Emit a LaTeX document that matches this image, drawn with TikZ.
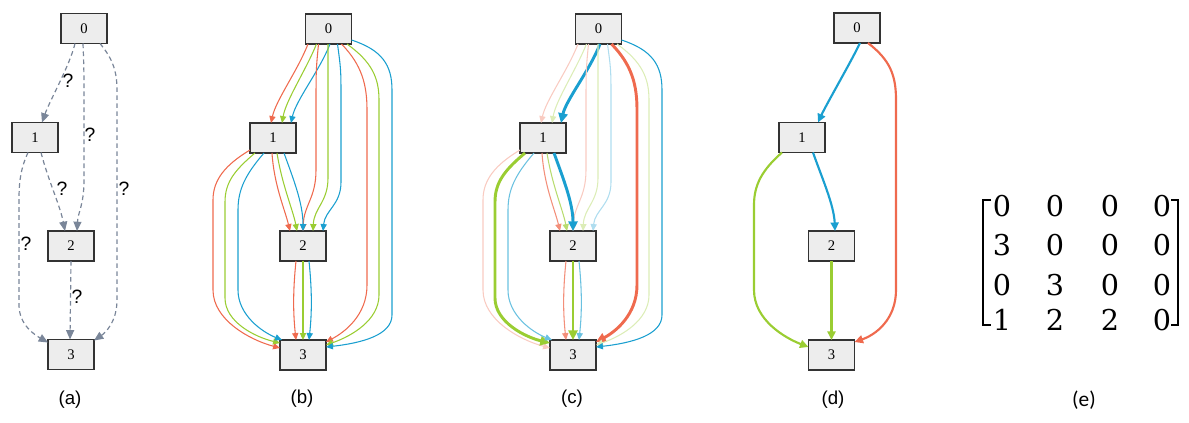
\documentclass[tikz,border=0pt]{standalone}
\usepackage{fontspec}
\usetikzlibrary{arrows.meta,calc}
\newfontfamily\timesf{Liberation Serif}
\newfontfamily\arialf{Liberation Sans}
\newfontfamily\calf{Carlito}
\newfontfamily\matf{DejaVu Serif}
\definecolor{myred}{HTML}{EF6A4E}
\definecolor{mygreen}{HTML}{9ACD32}
\definecolor{myblue}{HTML}{1A9FD0}
\definecolor{slate}{HTML}{7A8699}
\tikzset{
 box/.style={draw=black!80, fill=black!7, line width=1.1pt, minimum width=34.5pt, minimum height=22.5pt, inner sep=0pt, font=\timesf\fontsize{11}{13}\selectfont},
 lab/.style={font=\arialf\fontsize{14}{16}\selectfont, inner sep=0pt},
 qm/.style={font=\arialf\fontsize{14.5}{16}\selectfont, inner sep=0pt},
 mat/.style={font=\matf\fontsize{21.5}{24}\selectfont, inner sep=0pt},
 dedge/.style={color=slate, line width=0.9pt, dash pattern=on 3.5pt off 2.5pt, -{Triangle[length=7pt,width=6pt]}},
 e/.style={line width=0.8pt, -{Triangle[length=4pt 1.5,width=3.4pt 1.6]}},
 R/.style={e,color=myred}, G/.style={e,color=mygreen}, B/.style={e,color=myblue},
 Rf/.style={e,color=myred!35}, Gf/.style={e,color=mygreen!35}, Bf/.style={e,color=myblue!35},
 Rm/.style={e,color=myred!75}, Gm/.style={e,color=mygreen!70}, Bm/.style={e,color=myblue!65},
 RT/.style={e,color=myred,line width=2.2pt}, GT/.style={e,color=mygreen,line width=2.2pt}, BT/.style={e,color=myblue,line width=2.2pt},
 dR/.style={e,color=myred,line width=1.6pt}, dG/.style={e,color=mygreen,line width=1.6pt}, dB/.style={e,color=myblue,line width=1.6pt},
 be01r/.style=R, be01g/.style=G, be01b/.style=B,
 be02r/.style=R, be02g/.style=G, be02b/.style=B,
 be03r/.style=R, be03g/.style=G, be03b/.style=B,
 be12r/.style=R, be12g/.style=G, be12b/.style=B,
 be13r/.style=R, be13g/.style=G, be13b/.style=B,
 be23r/.style=R, be23g/.style=G, be23b/.style=B,
 ce01r/.style=Rf, ce01g/.style=Gf, ce01b/.style=BT,
 ce02r/.style=Rf, ce02g/.style=Gf, ce02b/.style=Bf,
 ce03r/.style=RT, ce03g/.style=Gf, ce03b/.style=B,
 ce12r/.style=Rm, ce12g/.style=Gm, ce12b/.style=BT,
 ce13r/.style=Rf, ce13g/.style=GT, ce13b/.style=Bm,
 ce23r/.style=Rm, ce23g/.style=GT, ce23b/.style=Bm,
}
\newcommand\drawBC[2]{%
 \draw[#1e01r] ($(#10)+(-20.5,15)$) .. controls ({298+#2},70) and ({276+#2},100) .. ($(#11)+(-2,-15)$);
 \draw[#1e01g] ($(#10)+(-12,15)$) .. controls ({306+#2},70) and ({286+#2},100) .. ($(#11)+(9,-15)$);
 \draw[#1e01b] ($(#10)+(1.5,15)$) .. controls ({320+#2},70) and ({296+#2},100) .. ($(#11)+(18,-15)$);
 \draw[#1e02r] ($(#10)+(-10,15)$) .. controls ({316+#2},70) .. ({316+#2},110) -- ({316+#2},170) .. controls ({316+#2},198) and ({304+#2},205) .. ($(#12)+(0,-15)$);
 \draw[#1e02g] ($(#10)+(-0.5,15)$) -- ({328+#2},178) .. controls ({328+#2},202) and ({314+#2},208) .. ($(#12)+(10,-15)$);
 \draw[#1e02b] ($(#10)+(9,15)$) .. controls ({341+#2},70) .. ({341+#2},100) -- ({341+#2},182) .. controls ({341+#2},205) and ({325+#2},210) .. ($(#12)+(20,-15)$);
 \draw[#1e03r] ($(#10)+(13,15)$) .. controls ({362+#2},65) and ({367+#2},85) .. ({367+#2},110) -- ({367+#2},285) .. controls ({367+#2},315) and ({345+#2},332) .. ($(#13)+(23,-13)$);
 \draw[#1e03g] ($(#10)+(18.5,15)$) .. controls ({372+#2},62) and ({379+#2},78) .. ({379+#2},100) -- ({379+#2},295) .. controls ({379+#2},320) and ({352+#2},336) .. ($(#13)+(23,-10)$);
 \draw[#1e03b] ($(#10)+(23,11)$) .. controls ({382+#2},50) and ({392+#2},65) .. ({392+#2},90) -- ({392+#2},315) .. controls ({392+#2},335) and ({362+#2},343) .. ($(#13)+(23,-8)$);
 \draw[#1e12r] ($(#11)+(-1,15)$) .. controls ({274+#2},185) and ({285+#2},210) .. ($(#12)+(-13,-15)$);
 \draw[#1e12g] ($(#11)+(4,15)$) .. controls ({282+#2},185) and ({293+#2},210) .. ($(#12)+(-6,-15)$);
 \draw[#1e12b] ($(#11)+(11,15)$) .. controls ({293+#2},178) and ({303+#2},203) .. ($(#12)+(0,-15)$);
 \draw[#1e13r] ($(#11)+(-23,12)$) .. controls ({225+#2},165) and ({213+#2},180) .. ({213+#2},200) -- ({213+#2},290) .. controls ({213+#2},320) and ({250+#2},340) .. ($(#13)+(-23,-7)$);
 \draw[#1e13g] ($(#11)+(-18,15)$) .. controls ({235+#2},170) and ({225+#2},182) .. ({225+#2},202) -- ({225+#2},298) .. controls ({225+#2},322) and ({255+#2},337) .. ($(#13)+(-23,-12)$);
 \draw[#1e13b] ($(#11)+(-9,15)$) .. controls ({245+#2},175) and ({238+#2},190) .. ({238+#2},210) -- ({238+#2},290) .. controls ({238+#2},315) and ({262+#2},332) .. ($(#13)+(-21,-15)$);
 \draw[#1e23r] ($(#12)+(-7,15)$) .. controls ({293+#2},290) and ({293+#2},312) .. ($(#13)+(-7,-15)$);
 \draw[#1e23g] ($(#12)+(0,15)$) -- ($(#13)+(0,-15)$);
 \draw[#1e23b] ($(#12)+(6,15)$) .. controls ({312+#2},290) and ({312+#2},312) .. ($(#13)+(6,-15)$);
}
\begin{document}
\begin{tikzpicture}[x=0.75pt,y=-0.75pt]
\useasboundingbox (0,0) rectangle (1189,422);
% panel (a)
\node[box] (a0) at (84,28.5) {0};
\node[box] (a1) at (35,137.5) {1};
\node[box] (a2) at (71,246) {2};
\node[box] (a3) at (71,354.5) {3};
\draw[dedge] ($(a0)+(-9,15)$) .. controls (70,65) and (50,100) .. ($(a1)+(7,-15)$);
\draw[dedge] ($(a0)+(-1,15)$) .. controls (84,70) .. (84,110) -- (84,180) .. controls (84,205) and (78,212) .. ($(a2)+(6,-15)$);
\draw[dedge] ($(a0)+(16,15)$) .. controls (112,58) and (117,70) .. (117,90) -- (117,300) .. controls (117,322) and (105,333) .. ($(a3)+(23,-14)$);
\draw[dedge] ($(a1)+(6,15)$) .. controls (48,180) and (60,205) .. ($(a2)+(-6,-15)$);
\draw[dedge] ($(a1)+(-7,15)$) .. controls (21,168) and (19,180) .. (19,200) -- (19,305) .. controls (19,325) and (35,335) .. ($(a3)+(-23,-12)$);
\draw[dedge] ($(a2)+(0,15)$) -- ($(a3)+(-1,-15)$);
\node[qm] (q01) at (68,81) {?};
\node[qm] (q02) at (90,135) {?};
\node[qm] (q03) at (124,189) {?};
\node[qm] (q12) at (62,189) {?};
\node[qm] (q13) at (26,244) {?};
\node[qm] (q23) at (77,297) {?};
\node[lab] (la) at (70,400) {(a)};
% panel (b)
\node[box] (b0) at (328.5,29) {0};
\node[box] (b1) at (273,138) {1};
\node[box] (b2) at (303,246) {2};
\node[box] (b3) at (303,355) {3};
\drawBC{b}{0}
\node[lab] (lb) at (302,399) {(b)};
% panel (c)
\node[box] (c0) at (598.5,29) {0};
\node[box] (c1) at (543,138) {1};
\node[box] (c2) at (573,246) {2};
\node[box] (c3) at (573,355) {3};
\drawBC{c}{270}
\node[lab] (lc) at (572,399) {(c)};
% panel (d)
\node[box] (d0) at (857,28) {0};
\node[box] (d1) at (802,137.5) {1};
\node[box] (d2) at (831.5,246) {2};
\node[box] (d3) at (831.5,355) {3};
\draw[dB] ($(d0)+(3,15)$) .. controls (852,60) and (826,105) .. ($(d1)+(16,-15)$);
\draw[dR] ($(d0)+(11,15)$) .. controls (890,60) and (896,75) .. (896,100) -- (896,290) .. controls (896,320) and (875,335) .. ($(d3)+(23,-13)$);
\draw[dG] ($(d1)+(-20,15)$) .. controls (762,170) and (754,185) .. (754,205) -- (754,290) .. controls (754,320) and (785,338) .. ($(d3)+(-23,-8)$);
\draw[dB] ($(d1)+(11,15)$) .. controls (822,178) and (834,205) .. ($(d2)+(3.5,-15)$);
\draw[dG] ($(d2)+(0,15)$) -- ($(d3)+(0,-15)$);
\node[lab] (ld) at (833,400) {(d)};
% panel (e)
\foreach \x/\y/\v/\n in {1002/206/0/m11,1055/206/0/m12,1110/206/0/m13,1162/206/0/m14,
 1002/245/3/m21,1055/245/0/m22,1110/245/0/m23,1162/245/0/m24,
 1002/285/0/m31,1055/285/3/m32,1110/285/0/m33,1162/285/0/m34,
 1002/320/1/m41,1055/320/2/m42,1110/320/2/m43,1162/320/0/m44}
 \node[mat] (\n) at (\x,\y) {\v};
\draw[line width=1.5pt] (991,200) -- (983,200) -- (983,325) -- (991,325);
\draw[line width=1.5pt] (1171,200) -- (1178,200) -- (1178,325) -- (1171,325);
\node[font=\calf\fontsize{16}{18}\selectfont, inner sep=0pt] (le) at (1084,400) {(e)};
\end{tikzpicture}
\end{document}
